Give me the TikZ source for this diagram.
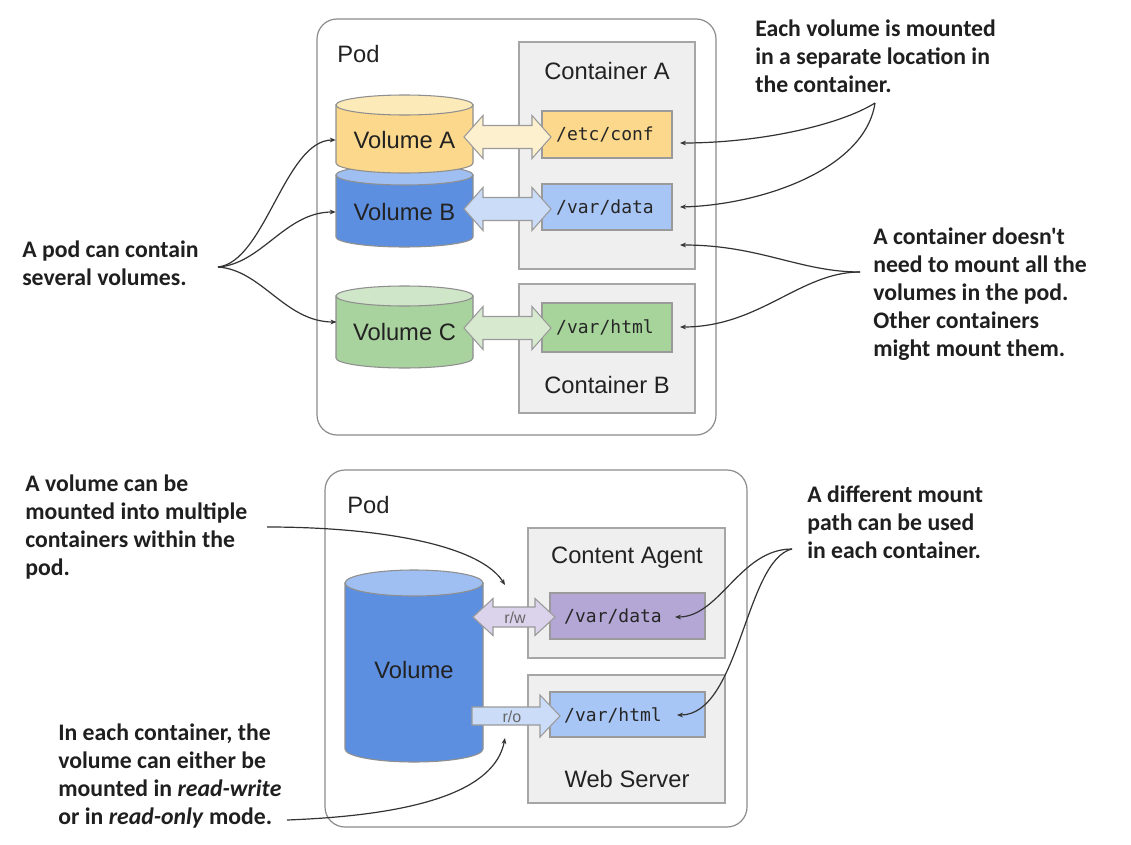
\documentclass[tikz,border=0pt]{standalone}
\usepackage{fontspec}
\setmainfont{Liberation Sans}
\setmonofont{DejaVu Sans Mono}
\newfontfamily\annotfont{Carlito}
\usetikzlibrary{arrows.meta,calc}
\definecolor{podgray}{HTML}{8C8C8C}
\definecolor{contgray}{HTML}{A6A6A6}
\definecolor{contfill}{HTML}{EFEFEF}
\definecolor{volAbody}{HTML}{FBD88B}
\definecolor{volAtop}{HTML}{FDEAB9}
\definecolor{etcfill}{HTML}{FCD88C}
\definecolor{arrA}{HTML}{FDF0CF}
\definecolor{volBbody}{HTML}{5D8FE0}
\definecolor{volBtop}{HTML}{9FBFF2}
\definecolor{vdatafill}{HTML}{A8C6F5}
\definecolor{arrB}{HTML}{CADCF8}
\definecolor{volCbody}{HTML}{A8D29E}
\definecolor{volCtop}{HTML}{CFE6C8}
\definecolor{vhtmlfill}{HTML}{A6D49B}
\definecolor{arrC}{HTML}{D7EAD0}
\definecolor{purplefill}{HTML}{B4A7D6}
\definecolor{arrP}{HTML}{DBD3EB}
\definecolor{cylgray}{HTML}{8F8F8F}
\definecolor{arrgray}{HTML}{9A9A9A}
\definecolor{textdark}{HTML}{222222}
\definecolor{monotext}{HTML}{262626}
\definecolor{linedark}{HTML}{333333}
\definecolor{notetext}{HTML}{1F1F1F}
\tikzset{
  podbox/.style={draw=podgray, line width=0.9pt, rounded corners=15pt, fill=white, inner sep=0},
  contbox/.style={draw=contgray, line width=0.8pt, fill=contfill, inner sep=0},
  mbox/.style={draw=arrgray, line width=0.8pt, inner sep=0},
  boxsize/.style 2 args={minimum width={#1*0.75pt}, minimum height={#2*0.75pt}},
  lbl/.style={font=\fontsize{17.8}{20}\selectfont, text=textdark, inner sep=0},
  mono/.style={font=\ttfamily\fontsize{13.5}{16}\selectfont, text=monotext, inner sep=0},
  smalllbl/.style={font=\fontsize{12}{14}\selectfont, text=black!60, inner sep=0},
  note/.style={font=\annotfont\bfseries\fontsize{17.8}{21}\selectfont, align=left, anchor=north west, inner sep=0, text=notetext},
  callout/.style={draw=linedark, line width=0.9pt, -{Stealth[length=4.5pt,width=3.6pt]}},
  cylline/.style={draw=cylgray, line width=0.8pt},
  arrline/.style={draw=arrgray, line width=0.8pt}
}
\newcommand{\drawcyl}[8]{%
  \filldraw[cylline, fill=#7] (#1,#3) -- (#1,#4) arc[start angle=180,end angle=360,x radius=#5,y radius=#6] -- (#2,#3) -- cycle;
  \filldraw[cylline, fill=#8] ({(#1+#2)/2},#3) ellipse[x radius=#5, y radius=#6];
}
\newcommand{\dblarr}[7]{%
  \filldraw[arrline, fill=#7] (#1,#3) -- (#1+#6,#3-#5) -- (#1+#6,#3-#4) -- (#2-#6,#3-#4) -- (#2-#6,#3-#5) -- (#2,#3) -- (#2-#6,#3+#5) -- (#2-#6,#3+#4) -- (#1+#6,#3+#4) -- (#1+#6,#3+#5) -- cycle;
}
\newcommand{\sglarr}[7]{%
  \filldraw[arrline, fill=#7] (#1,#3-#4) -- (#2-#6,#3-#4) -- (#2-#6,#3-#5) -- (#2,#3) -- (#2-#6,#3+#5) -- (#2-#6,#3+#4) -- (#1,#3+#4) -- cycle;
}
\begin{document}
\begin{tikzpicture}[x=0.75pt,y=-0.75pt]
\fill[white] (0,0) rectangle (1131,845);
\useasboundingbox (0,0) rectangle (1131,845);

% ---------- top pod ----------
\node[podbox, boxsize={399}{416}] (pod1) at (516.5,227) {};
\node[lbl, anchor=base west] (pod1lbl) at (337,63) {Pod};
\node[contbox, boxsize={176}{227}] (contA) at (607,155.5) {};
\node[lbl, anchor=base] (contAlbl) at (607,80) {Container A};
\node[contbox, boxsize={176}{129}] (contB) at (607,348.5) {};
\node[lbl, anchor=base] (contBlbl) at (607,393) {Container B};
\node[mbox, fill=etcfill, boxsize={130}{47}] (etc) at (607,134.5) {};
\node[mono, anchor=base] (etctxt) at (605,141) {/etc/conf};
\node[mbox, fill=vdatafill, boxsize={130}{46}] (vdata) at (607,207) {};
\node[mono, anchor=base] (vdatatxt) at (605,213) {/var/data};
\node[mbox, fill=vhtmlfill, boxsize={130}{49}] (vhtml) at (607,327.5) {};
\node[mono, anchor=base] (vhtmltxt) at (605,333) {/var/html};

\drawcyl{336}{473}{175}{237}{51.375pt}{7.5pt}{volBbody}{volBtop}
\drawcyl{336}{473}{105}{163}{51.375pt}{7.5pt}{volAbody}{volAtop}
\drawcyl{336}{473}{296}{358}{51.375pt}{7.5pt}{volCbody}{volCtop}
\node[lbl, boxsize={137}{20}] (volA) at (404.5,140) {Volume A};
\node[lbl, boxsize={137}{20}] (volB) at (404.5,212) {Volume B};
\node[lbl, boxsize={137}{20}] (volC) at (404.5,332) {Volume C};

\dblarr{464}{551}{137}{11.5}{21.5}{19}{arrA}
\dblarr{464}{551}{209}{11.5}{21.5}{19}{arrB}
\dblarr{464}{551}{328}{11.5}{21.5}{19}{arrC}

% ---------- bottom pod ----------
\node[podbox, boxsize={422}{357}] (pod2) at (536,648.5) {};
\node[lbl, anchor=base west] (pod2lbl) at (347,513) {Pod};
\node[contbox, boxsize={197}{130}] (contCA) at (626.5,593) {};
\node[lbl, anchor=base] (contCAlbl) at (627,563) {Content Agent};
\node[mbox, fill=purplefill, boxsize={155}{46}] (vdata2) at (627.5,616) {};
\node[mono, anchor=base] (vdata2txt) at (613,622) {/var/data};
\node[contbox, boxsize={197}{128}] (contWS) at (626.5,739) {};
\node[lbl, anchor=base] (contWSlbl) at (627,787) {Web Server};
\node[mbox, fill=vdatafill, boxsize={155}{45}] (vhtml2) at (627.5,714.5) {};
\node[mono, anchor=base] (vhtml2txt) at (613,721) {/var/html};

\drawcyl{345}{483}{583}{749}{51.75pt}{9.75pt}{volBbody}{volBtop}
\node[lbl, boxsize={138}{20}] (vol) at (414,670) {Volume};

\dblarr{473}{555}{617}{10}{18.5}{20}{arrP}
\node[smalllbl, anchor=base] (rw) at (515,623) {r/w};
\sglarr{472}{560}{716}{9}{21}{20}{arrB}
\node[smalllbl, anchor=base] (ro) at (512,722) {r/o};

% ---------- notes ----------
\node[note] (note1) at (755,20) {Each volume is mounted\\in a separate location in\\the container.};
\node[note] (note2) at (873,228) {A container doesn't\\need to mount all the\\volumes in the pod.\\Other containers\\might mount them.};
\node[note] (note3) at (22,241) {A pod can contain\\several volumes.};
\node[note] (note4) at (25,475) {A volume can be\\mounted into multiple\\containers within the\\pod.};
\node[note] (note5) at (58,724) {In each container, the\\volume can either be\\mounted in \textit{read-write}\\or in \textit{read-only} mode.};
\node[note] (note6) at (807,486) {A different mount\\path can be used\\in each container.};

% ---------- callout connectors ----------
\coordinate (podsrc) at (218,267);
\coordinate (volCin) at (336.5,322);
\draw[callout] (podsrc) .. controls (265,262) and (285,140) .. (volA.west);
\draw[callout] (podsrc) .. controls (262,264) and (285,212) .. (volB.west);
\draw[callout] (podsrc) .. controls (262,270) and (285,322) .. (volCin);

\coordinate (eachsrc) at (875,103);
\coordinate (etcin) at (680,143);
\coordinate (vdatain) at (680,207);
\draw[callout] (eachsrc) .. controls (840,125) and (760,143) .. (etcin);
\draw[callout] (eachsrc) .. controls (865,170) and (760,205) .. (vdatain);

\coordinate (contsrc) at (860,272);
\coordinate (contAin) at (680,245);
\coordinate (vhtmlin) at (680,327);
\draw[callout] (contsrc) .. controls (800,272) and (760,245) .. (contAin);
\draw[callout] (contsrc) .. controls (800,272) and (760,327) .. (vhtmlin);

\coordinate (multisrc) at (267,527);
\coordinate (rwin) at (505,585);
\draw[callout] (multisrc) .. controls (380,527) and (480,545) .. (rwin);

\coordinate (modesrc) at (287,820);
\coordinate (roin) at (505,738);
\draw[callout] (modesrc) .. controls (420,815) and (495,790) .. (roin);

\coordinate (diffsrc) at (792,549);
\coordinate (vdata2in) at (675,617);
\coordinate (vhtml2in) at (677,715);
\draw[callout] (diffsrc) .. controls (740,549) and (720,617) .. (vdata2in);
\draw[callout] (diffsrc) .. controls (745,560) and (740,715) .. (vhtml2in);
\end{tikzpicture}
\end{document}
